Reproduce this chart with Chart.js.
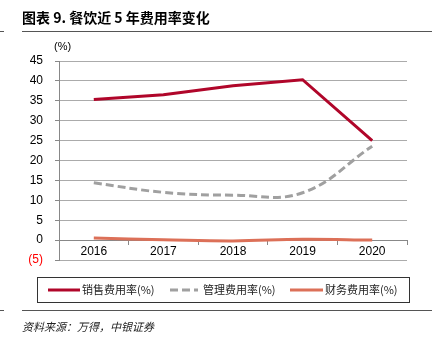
<!DOCTYPE html>
<html lang="zh">
<head>
<meta charset="UTF-8">
<title>图表 9</title>
<script src="https://cdn.jsdelivr.net/npm/chart.js"></script>
<style>
  html, body { margin: 0; padding: 0; background: #fff; }
  #wrap { width: 432px; height: 351px; position: relative; }
</style>
</head>
<body>
<div id="wrap"><canvas id="grafico" width="432" height="351"></canvas></div>
<script>
  // dados
  const anos = ['2016', '2017', '2018', '2019', '2020'];
  const vendas = [35.3, 36.5, 38.8, 40.3, 25.0];
  const gestao = [14.4, 12.0, 11.3, 11.9, 23.6];
  const financeiro = [0.5, 0.1, -0.2, 0.2, 0.0];
  const nomes = ['销售费用率(%)', '管理费用率(%)', '财务费用率(%)'];
  const cores = ['#b0062a', '#a0a0a0', '#dc7058'];

  const titulo = '图表 9. 餐饮近 5 年费用率变化';
  const fonte = '资料来源：万得，中银证券';

  const cjk = '"Noto Sans CJK SC", "Noto Sans", sans-serif';
  const arial = '"Liberation Sans", Arial, sans-serif';

  // plugin que desenha título, linhas, legenda e fonte
  const extras = {
    id: 'extras',
    afterDraw(chart) {
      const c = chart.ctx;
      c.save();
      c.fillStyle = '#000';
      c.font = 'bold 14px ' + cjk;
      c.textBaseline = 'middle';
      c.fillText(titulo, 22, 18);

      c.strokeStyle = '#555';
      c.lineWidth = 1;
      c.beginPath();
      c.moveTo(22, 31.5); c.lineTo(432, 31.5);
      c.moveTo(0, 31.5); c.lineTo(4, 31.5);
      c.moveTo(22, 310.5); c.lineTo(432, 310.5);
      c.moveTo(0, 310.5); c.lineTo(4, 310.5);
      c.stroke();

      // (%)
      c.font = '11px ' + arial;
      c.fillText('(%)', 54, 47);

      // legenda
      c.strokeStyle = '#333';
      c.strokeRect(37.5, 277.5, 372, 25);
      const itens = [[48, 80, 82], [170, 198, 203], [290, 323, 325]];
      chart.data.datasets.forEach((ds, i) => {
        const [x0, x1, xt] = itens[i];
        c.beginPath();
        c.strokeStyle = ds.borderColor;
        c.lineWidth = 3;
        c.setLineDash(ds.borderDash || []);
        c.moveTo(x0, 290); c.lineTo(x1, 290);
        c.stroke();
        c.setLineDash([]);
        c.fillStyle = '#222';
        c.font = '11px ' + cjk;
        c.fillText(ds.label, xt, 290);
      });

      c.fillStyle = '#222';
      c.font = 'italic 11px ' + cjk;
      c.fillText(fonte, 22, 327);
      c.restore();
    }
  };

  new Chart(document.getElementById('grafico'), {
    type: 'line',
    data: {
      labels: anos,
      datasets: [
        { label: nomes[0], data: vendas, borderColor: cores[0], borderWidth: 3, tension: 0, pointRadius: 0 },
        { label: nomes[1], data: gestao, borderColor: cores[1], borderWidth: 3, borderDash: [8, 4], tension: 0.4, pointRadius: 0 },
        { label: nomes[2], data: financeiro, borderColor: cores[2], borderWidth: 3, tension: 0.4, pointRadius: 0 }
      ]
    },
    options: {
      responsive: false,
      animation: false,
      layout: { padding: { left: 0, right: 25, top: 61, bottom: 91 } },
      plugins: { legend: { display: false }, tooltip: { enabled: false } },
      scales: {
        x: {
          position: { y: 0 },
          offset: true,
          grid: { drawOnChartArea: false, offset: true, tickLength: 4, color: '#888' },
          border: { color: '#888' },
          ticks: { color: '#000', padding: 0, font: { family: arial, size: 12 } }
        },
        y: {
          min: -5,
          max: 45,
          afterFit(scale) { scale.width = 59; },
          grid: { color: '#ababab', tickLength: 4, tickColor: '#888' },
          border: { color: '#888' },
          ticks: {
            stepSize: 5,
            padding: 12,
            font: { family: arial, size: 12 },
            color: ctx => ctx.tick.value < 0 ? '#ff0000' : '#000',
            callback: v => v < 0 ? '(' + (-v) + ')' : v
          }
        }
      }
    },
    plugins: [extras]
  });
</script>
</body>
</html>
